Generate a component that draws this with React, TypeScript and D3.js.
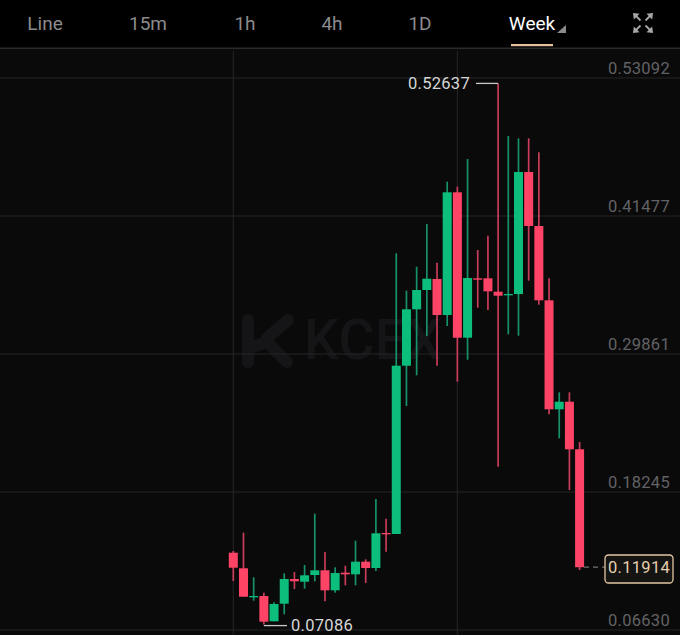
import React from "react";
import * as d3 from "d3";

const opens = [0.13136,0.11823,0.09382,0.09492,0.07362,0.08844,0.10923,0.10695,0.11259,0.11655,0.09971,0.11453,0.11318,0.12379,0.11848,0.14794,0.1471,0.28875,0.33622,0.35247,0.36173,0.33143,0.4347,0.31232,0.36232,0.36232,0.35104,0.34801,0.3491,0.45178,0.40633,0.3438,0.25206,0.25845,0.21839];
const closes = [0.11874,0.09433,0.09492,0.07329,0.08818,0.10923,0.10729,0.11234,0.11655,0.09971,0.11428,0.11318,0.12379,0.11848,0.14769,0.14685,0.28875,0.33622,0.35247,0.36198,0.33143,0.4347,0.31232,0.36257,0.36114,0.35137,0.34767,0.3491,0.45178,0.40633,0.3438,0.25206,0.25845,0.21839,0.11914];
const highs = [0.13279,0.1482,0.11066,0.09769,0.08961,0.11402,0.11512,0.12101,0.16419,0.13195,0.11907,0.12042,0.14146,0.12581,0.17656,0.15998,0.38336,0.35188,0.37208,0.40802,0.37545,0.44362,0.43941,0.46273,0.38613,0.39817,0.52637,0.48208,0.48015,0.48015,0.46837,0.36232,0.26636,0.26636,0.22453];
const lows = [0.10754,0.0943,0.09096,0.07086,0.0736,0.07954,0.10081,0.10106,0.10729,0.09046,0.09769,0.10392,0.10392,0.10586,0.11596,0.1322,0.1471,0.25483,0.28067,0.31375,0.28875,0.32217,0.27529,0.2938,0.33757,0.33563,0.20375,0.31518,0.314,0.3603,0.34009,0.24785,0.22765,0.18413,0.1168];
const axisTicks = [0.53092,0.41477,0.29861,0.18245,0.0663];
const tabs = ["Line","15m","1h","4h","1D","Week"];
const tabCenters = [45,148,245,332,420,532];
const lastPrice = 0.11914;
const highLabel = 0.52637;
const lowLabel = 0.07086;
const verticalGridIndex = [0,22];

const FONT = "Roboto, 'Noto Sans', sans-serif";
const UP = "#0cbd7b", DOWN = "#fe4466", UPW = "#17916a", DOWNW = "#c93c5a";

export default function App() {
  const y = d3.scaleLinear().domain([0.0663,0.53092]).range([630,78]);
  const x = d3.scalePoint<number>().domain(d3.range(opens.length)).range([233.3,579.6]);
  const fmt = (v:number)=>v.toFixed(5);
  const yLast = y(lastPrice), yHi = y(highLabel), yLo = y(lowLabel);
  const hiX = x(26)!, loX = x(3)!;
  return (
    <svg width={680} height={635} viewBox="0 0 680 635" style={{position:"absolute",left:0,top:0,display:"block",fontFamily:FONT}}>
      <rect width={680} height={635} fill="#0a0a0b"/>
      <rect width={680} height={48} fill="#000"/>
      <rect y={47.5} width={680} height={1.6} fill="#2a2a2c"/>
      {/* watermark */}
      <g fill="none" stroke="#151517" strokeWidth={12} strokeLinecap="round" strokeLinejoin="round">
        <path d="M248 320 L248 362"/>
        <path d="M250 348 L267 342 L287 362"/>
        <path d="M267 338 L288 320"/>
      </g>
      <text x={304} y={359} fontSize={55} fontWeight={500} fill="#151517" letterSpacing={0.5}>KCEX</text>
      {/* grid */}
      {axisTicks.map(t=><line key={t} x1={0} x2={680} y1={y(t)} y2={y(t)} stroke="#252528" strokeWidth={1.2}/>)}
      {verticalGridIndex.map(i=><line key={i} x1={x(i)!} x2={x(i)!} y1={51} y2={635} stroke="#222225" strokeWidth={1.2}/>)}
      {/* axis labels */}
      {axisTicks.map(t=><text key={t} x={670} y={y(t)-4} textAnchor="end" fontSize={16.5} fill="#626265" letterSpacing={0.3}>{fmt(t)}</text>)}
      {/* candles */}
      {opens.map((o,i)=>{
        const c=closes[i], up=c>=o, cx=x(i)!;
        const top=y(Math.max(o,c)), bot=y(Math.min(o,c));
        return <g key={i}>
          <line x1={cx} x2={cx} y1={y(highs[i])} y2={y(lows[i])} stroke={up?UPW:DOWNW} strokeWidth={1.7}/>
          <rect x={cx-4.5} width={9} y={top} height={Math.max(bot-top,1.3)} fill={up?UP:DOWN}/>
        </g>;
      })}
      {/* high / low callouts */}
      <line x1={476} x2={hiX} y1={yHi} y2={yHi} stroke="#c8c8c8" strokeWidth={1.3}/>
      <text x={470} y={yHi+5.8} textAnchor="end" fontSize={16.5} fill="#d6d6d6" letterSpacing={0.3}>{fmt(highLabel)}</text>
      <line x1={loX} x2={287} y1={yLo+1} y2={yLo+1} stroke="#c8c8c8" strokeWidth={1.3}/>
      <text x={291} y={yLo+6.8} fontSize={16.5} fill="#d6d6d6" letterSpacing={0.3}>{fmt(lowLabel)}</text>
      {/* last price */}
      <line x1={584} x2={605} y1={yLast} y2={yLast} stroke="#77736c" strokeWidth={1.2} strokeDasharray="5 4"/>
      <rect x={605} y={555} width={68} height={28} rx={3.5} fill="#141412" stroke="#e3c6a2" strokeWidth={1.3}/>
      <text x={639} y={yLast+5.8} textAnchor="middle" fontSize={16.5} fill="#e6cfaf" letterSpacing={0.3}>{fmt(lastPrice)}</text>
      {/* tabs */}
      {tabs.map((t,i)=><text key={t} x={tabCenters[i]} y={30} textAnchor="middle" fontSize={19} fill={t==="Week"?"#fff":"#8b8b8d"}>{t}</text>)}
      <rect x={511} y={44} width={42} height={2.2} fill="#e8c09c"/>
      <path d="M566 25 L566 33 L557 33 Z" fill="#8b8b8d"/>
      {/* fullscreen icon */}
      <g stroke="#a8a8a8" strokeWidth={1.8} fill="#a8a8a8">
        <path d="M636 16 L640.5 20.5" /><path d="M633 13 L639.5 13.8 L633.8 19.5 Z" stroke="none"/>
        <path d="M650 16 L645.5 20.5" /><path d="M653 13 L646.5 13.8 L652.2 19.5 Z" stroke="none"/>
        <path d="M636 30 L640.5 25.5" /><path d="M633 33 L639.5 32.2 L633.8 26.5 Z" stroke="none"/>
        <path d="M650 30 L645.5 25.5" /><path d="M653 33 L646.5 32.2 L652.2 26.5 Z" stroke="none"/>
      </g>
    </svg>
  );
}
